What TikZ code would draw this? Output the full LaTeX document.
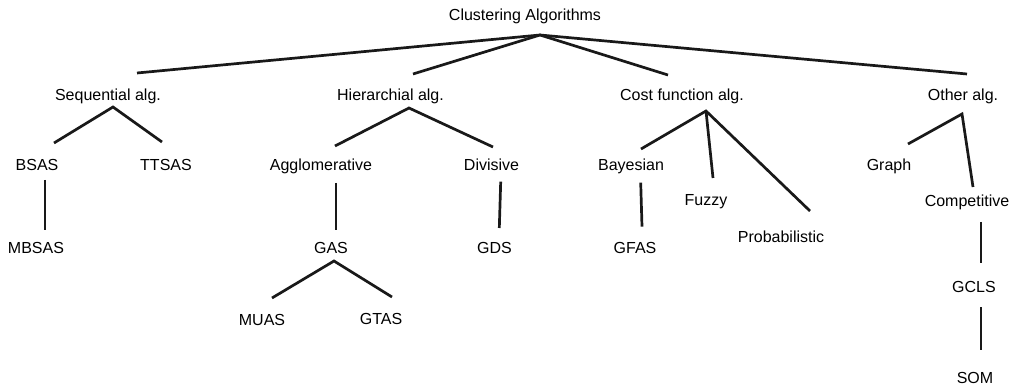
\documentclass[tikz,border=0pt]{standalone}
\usepackage{fontspec}
\setmainfont{Liberation Sans}
\usetikzlibrary{positioning}
\tikzset{
  lbl/.style={anchor=base, inner sep=0pt, font=\fontsize{16}{19}\selectfont},
  branch/.style={line width=2.7pt, color=black!90}
}

\begin{document}
\begin{tikzpicture}[x=1pt, y=-1pt]
  \useasboundingbox (0,0) rectangle (1011,387);

  % Root and first level
  \node[lbl] (root)  at (525,21)   {Clustering Algorithms};
  \node[lbl] (seq)   at (108,101)  {Sequential alg.};
  \node[lbl] (hier)  at (390.5,101) {Hierarchial alg.};
  \node[lbl] (cost)  at (682,101)  {Cost function alg.};
  \node[lbl] (other) at (963,101)  {Other alg.};

  \draw[branch] ([shift={(29,-28)}]seq.base) -- ([shift={(15,14)}]root.base)
                -- ([shift={(4,-27)}]other.base);
  \draw[branch] ([shift={(22.5,-27)}]hier.base) -- ([shift={(15,14)}]root.base)
                -- ([shift={(-14,-26)}]cost.base);

  % Sequential alg.
  \node[lbl] (bsas)  at (37,171)  {BSAS};
  \node[lbl] (ttsas) at (166,171) {TTSAS};
  \node[lbl] (mbsas) at (36,254)  {MBSAS};
  \draw[branch] ([shift={(17,-28)}]bsas.base) -- ([shift={(5,6)}]seq.base)
                -- ([shift={(-4,-29)}]ttsas.base);
  \draw[branch] ([shift={(8,9)}]bsas.base) -- ([shift={(9,-24)}]mbsas.base);

  % Hierarchial alg.
  \node[lbl] (agglo) at (321,171)   {Agglomerative};
  \node[lbl] (divi)  at (491.5,171) {Divisive};
  \node[lbl] (gas)   at (331,254)   {GAS};
  \node[lbl] (gds)   at (494.5,254) {GDS};
  \node[lbl] (muas)  at (262,325)   {MUAS};
  \node[lbl] (gtas)  at (381,324)   {GTAS};
  \draw[branch] ([shift={(14,-25)}]agglo.base) -- ([shift={(18.5,7)}]hier.base)
                -- ([shift={(1.5,-24)}]divi.base);
  \draw[branch] ([shift={(15,12)}]agglo.base) -- ([shift={(5,-24)}]gas.base);
  \draw[branch] ([shift={(9.2,10.7)}]divi.base) -- ([shift={(4.8,-26)}]gds.base);
  \draw[branch] ([shift={(10,-27)}]muas.base) -- ([shift={(3,7)}]gas.base)
                -- ([shift={(11,-27)}]gtas.base);

  % Cost function alg.
  \node[lbl] (bayes) at (631,171)   {Bayesian};
  \node[lbl] (fuzzy) at (706,205.5) {Fuzzy};
  \node[lbl] (prob)  at (781,243)   {Probabilistic};
  \node[lbl] (gfas)  at (635,254)   {GFAS};
  \draw[branch] ([shift={(10,-22)}]bayes.base) -- ([shift={(24,10)}]cost.base)
                -- ([shift={(29,-32)}]prob.base);
  \draw[branch] ([shift={(24,10)}]cost.base) -- ([shift={(7,-27.5)}]fuzzy.base);
  \draw[branch] ([shift={(9.7,11.7)}]bayes.base) -- ([shift={(7,-27.3)}]gfas.base);

  % Other alg.
  \node[lbl] (graph) at (889,171)   {Graph};
  \node[lbl] (comp)  at (967,206.5) {Competitive};
  \node[lbl] (gcls)  at (974,292)   {GCLS};
  \node[lbl] (som)   at (975,383)   {SOM};
  \draw[branch] ([shift={(19,-27)}]graph.base) -- ([shift={(-1,13)}]other.base)
                -- ([shift={(6,-19.5)}]comp.base);
  \draw[branch] ([shift={(14,15.5)}]comp.base) -- ([shift={(7,-29)}]gcls.base);
  \draw[branch] ([shift={(7,15)}]gcls.base) -- ([shift={(6,-33)}]som.base);
\end{tikzpicture}
\end{document}
